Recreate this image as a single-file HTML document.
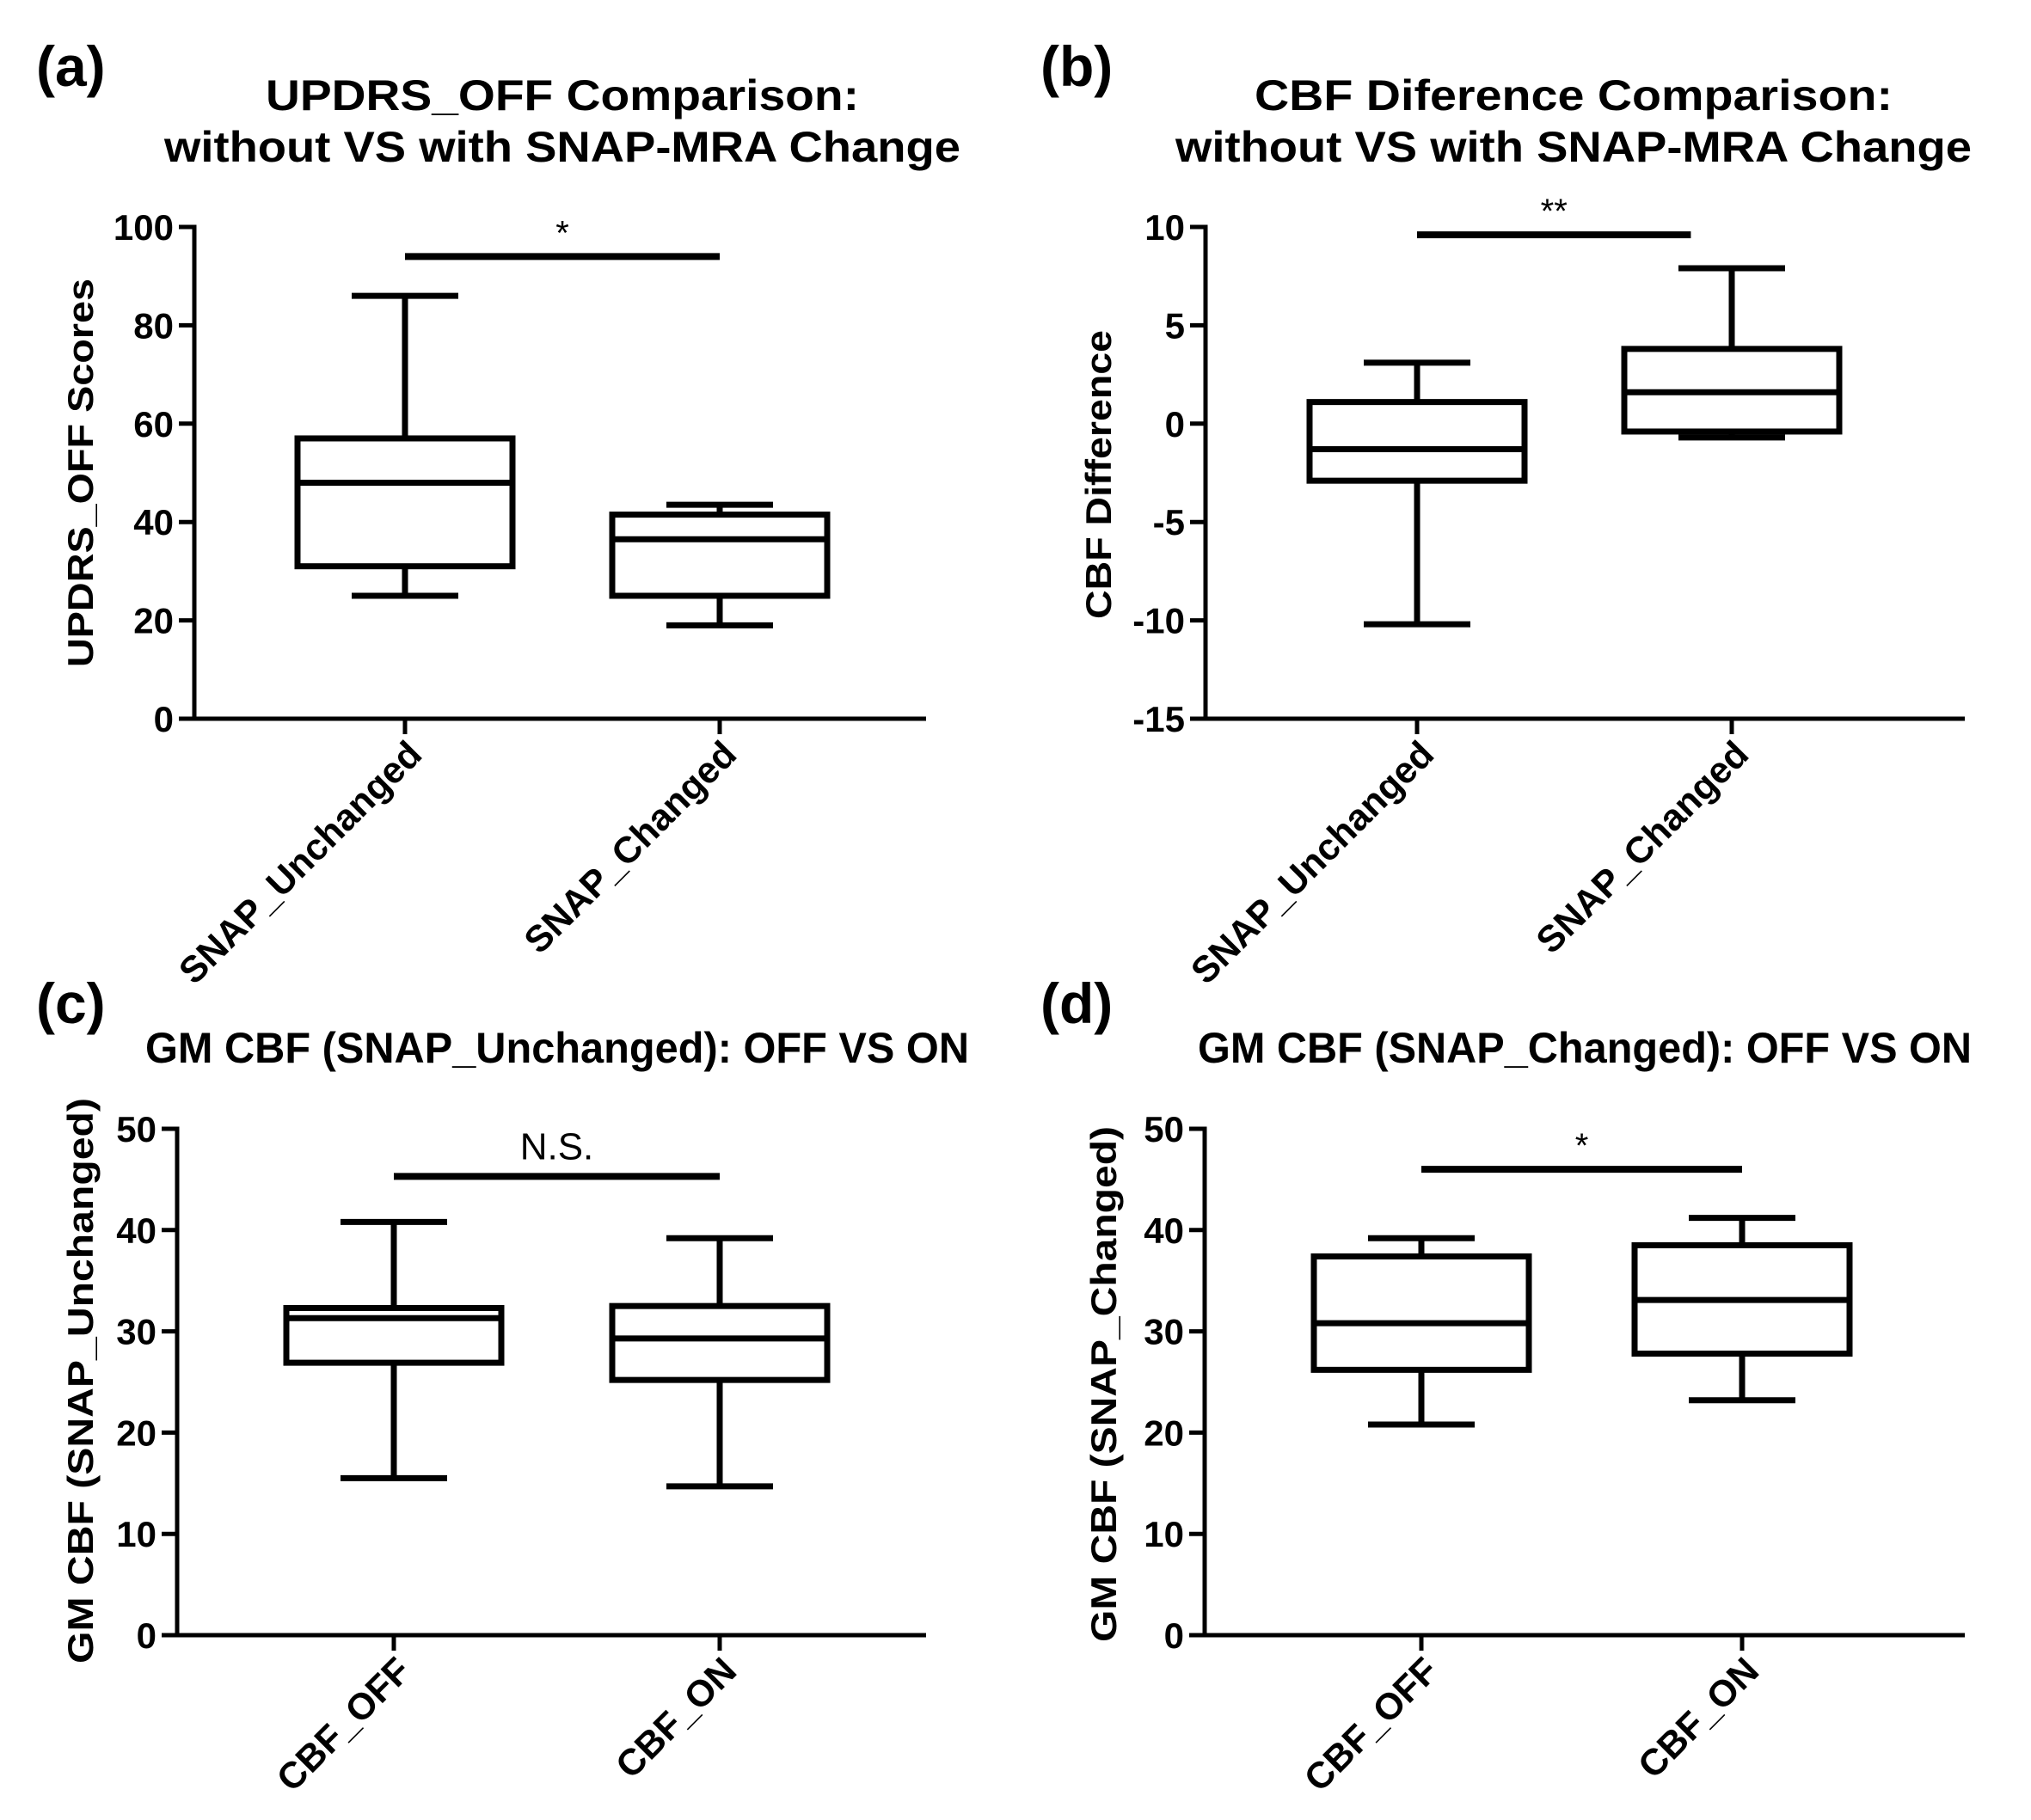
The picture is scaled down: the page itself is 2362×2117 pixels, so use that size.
<!DOCTYPE html>
<html><head><meta charset="utf-8">
<style>
html,body{margin:0;padding:0;background:#fff;}
svg{display:block;}
text{font-family:"Liberation Sans",Arial,sans-serif;fill:#000;}
.b{font-weight:bold;}
</style></head>
<body>
<svg id="fig" width="2362" height="2117" viewBox="0 0 2362 2117" xmlns="http://www.w3.org/2000/svg">
<rect width="2362" height="2117" fill="#fff"/>
</svg>
<script>
// ---- data ----
const catsA = ["SNAP_Unchanged","SNAP_Changed"];
const minA = [25, 19];
const q1A = [31, 25];
const medA = [48, 36.5];
const q3A = [57, 41.5];
const maxA = [86, 43.5];
const ticksA = [0,20,40,60,80,100];

const catsB = ["SNAP_Unchanged","SNAP_Changed"];
const minB = [-10.2, -0.7];
const q1B = [-2.9, -0.4];
const medB = [-1.3, 1.6];
const q3B = [1.1, 3.8];
const maxB = [3.1, 7.9];
const ticksB = [-15,-10,-5,0,5,10];

const catsC = ["CBF_OFF","CBF_ON"];
const minC = [15.5, 14.7];
const q1C = [26.9, 25.2];
const medC = [31.3, 29.3];
const q3C = [32.3, 32.5];
const maxC = [40.8, 39.2];
const ticksC = [0,10,20,30,40,50];

const catsD = ["CBF_OFF","CBF_ON"];
const minD = [20.8, 23.2];
const q1D = [26.2, 27.8];
const medD = [30.8, 33.1];
const q3D = [37.4, 38.5];
const maxD = [39.2, 41.2];
const ticksD = [0,10,20,30,40,50];

const sigValues = [94, 9.6, 45.3, 46];
const sigLabels = ["*", "**", "N.S.", "*"];

const NS = "http://www.w3.org/2000/svg";
const svg = document.getElementById('fig');
function mk(tag, attrs, parent, txt){
  const e = document.createElementNS(NS, tag);
  for (const k in attrs) e.setAttribute(k, attrs[k]);
  if (txt !== undefined) e.textContent = txt;
  (parent||svg).appendChild(e);
  return e;
}

function panel(cfg){
  const g = mk('g', {});
  
  
  const yScale = v => cfg.y0 + (v - cfg.ymin) / (cfg.ymax - cfg.ymin) * (cfg.y1 - cfg.y0);
  const xScale = i => cfg.cx[0] + i * (cfg.cx[1] - cfg.cx[0]);
  const lt = mk('text', {x: cfg.lx, y: cfg.ly, 'font-size': 66, class: 'b'}, g, cfg.letter);
  
  
  cfg.titles.forEach((t, k) => {
    const te = mk('text', {x: cfg.tx, y: cfg.ty[k], 'font-size': 50, class: 'b', 'text-anchor': 'middle', textLength: cfg.tw[k], lengthAdjust: 'spacingAndGlyphs'}, g, t);
    
    
  });
  const ya = mk('line', {x1: cfg.ax, y1: cfg.y1 - 2.5, x2: cfg.ax, y2: cfg.y0 + 2.5, stroke: '#000', 'stroke-width': 5}, g);
  
  
  const xa = mk('line', {x1: cfg.ax - 18, y1: cfg.y0, x2: cfg.xend, y2: cfg.y0, stroke: '#000', 'stroke-width': 5}, g);
  
  
  cfg.ticks.forEach(t => {
    const y = yScale(t);
    const tl = mk('line', {x1: cfg.ax - 18, y1: y, x2: cfg.ax, y2: y, stroke: '#000', 'stroke-width': 5}, g);
    
    
    const tt = mk('text', {x: cfg.ax - 24, y: y + 15, 'font-size': 42, class: 'b', 'text-anchor': 'end'}, g, String(t));
    
    
  });
  const yt = mk('text', {x: 0, y: 0, 'font-size': 42, class: 'b', 'text-anchor': 'middle', transform: `translate(${cfg.ytx},${cfg.yty}) rotate(-90)`, textLength: cfg.ytw, lengthAdjust: 'spacingAndGlyphs'}, g, cfg.ytitle);
  
  
  const hw = 125, cw = 62;
  cfg.cats.forEach((c, i) => {
    const x = xScale(i);
    const bg = mk('g', {}, g);
    
    
    const yMin = yScale(cfg.min[i]), yQ1 = yScale(cfg.q1[i]), yMed = yScale(cfg.med[i]), yQ3 = yScale(cfg.q3[i]), yMax = yScale(cfg.max[i]);
    mk('line', {x1: x, y1: yMax, x2: x, y2: yQ3, stroke: '#000', 'stroke-width': 7}, bg);
    mk('line', {x1: x, y1: yQ1, x2: x, y2: yMin, stroke: '#000', 'stroke-width': 7}, bg);
    mk('line', {x1: x - cw, y1: yMax, x2: x + cw, y2: yMax, stroke: '#000', 'stroke-width': 7}, bg);
    mk('line', {x1: x - cw, y1: yMin, x2: x + cw, y2: yMin, stroke: '#000', 'stroke-width': 7}, bg);
    mk('rect', {x: x - hw, y: yQ3, width: 2 * hw, height: yQ1 - yQ3, fill: '#fff', stroke: '#000', 'stroke-width': 7}, bg);
    mk('line', {x1: x - hw, y1: yMed, x2: x + hw, y2: yMed, stroke: '#000', 'stroke-width': 7}, bg);
    const xt = mk('line', {x1: x, y1: cfg.y0, x2: x, y2: cfg.y0 + 18, stroke: '#000', 'stroke-width': 5}, g);
    
    
    const xl = mk('text', {x: 0, y: 0, 'font-size': 43, class: 'b', 'text-anchor': 'end', transform: `translate(${x + 22},${cfg.y0 + 44}) rotate(-45)`}, g, c);
    
    
  });
  const sy = yScale(cfg.sig);
  const sx1 = xScale(cfg.sigF[0]), sx2 = xScale(cfg.sigF[1]);
  const sb = mk('line', {x1: sx1, y1: sy, x2: sx2, y2: sy, stroke: '#000', 'stroke-width': 8}, g);
  
  
  const st = mk('text', {x: (sx1 + sx2) / 2, y: sy + cfg.sigDy, 'font-size': cfg.sigFs, 'text-anchor': 'middle'}, g, cfg.sigLabel);
  
  
}

panel({name:'panel-a', letter:'(a)', lx:42, ly:100,
  titles:['UPDRS_OFF Comparison:','without VS with SNAP-MRA Change'], tx:654, ty:[128,188], tw:[690,926],
  ax:226, xend:1077, y0:836, y1:264, ymin:0, ymax:100, cx:[471,837], ticks:ticksA,
  ytitle:'UPDRS_OFF Scores', ytx:108, yty:550, ytw:452,
  cats:catsA, min:minA, q1:q1A, med:medA, q3:q3A, max:maxA,
  sig:sigValues[0], sigF:[0,1], sigLabel:sigLabels[0], sigDy:-14, sigFs:40});
panel({name:'panel-b', letter:'(b)', lx:1210, ly:100,
  titles:['CBF Diference Comparison:','without VS with SNAP-MRA Change'], tx:1830, ty:[128,188], tw:[742,926],
  ax:1402, xend:2285, y0:836, y1:264, ymin:-15, ymax:10, cx:[1648,2014], ticks:ticksB,
  ytitle:'CBF Difference', ytx:1292, yty:552, ytw:336,
  cats:catsB, min:minB, q1:q1B, med:medB, q3:q3B, max:maxB,
  sig:sigValues[1], sigF:[0,0.87], sigLabel:sigLabels[1], sigDy:-14, sigFs:40});
panel({name:'panel-c', letter:'(c)', lx:42, ly:1190,
  titles:['GM CBF (SNAP_Unchanged): OFF VS ON'], tx:648, ty:[1236], tw:[958],
  ax:206, xend:1077, y0:1902, y1:1313, ymin:0, ymax:50, cx:[458,837], ticks:ticksC,
  ytitle:'GM CBF (SNAP_Unchanged)', ytx:108, yty:1606, ytw:658,
  cats:catsC, min:minC, q1:q1C, med:medC, q3:q3C, max:maxC,
  sig:sigValues[2], sigF:[0,1], sigLabel:sigLabels[2], sigDy:-20, sigFs:44});
panel({name:'panel-d', letter:'(d)', lx:1210, ly:1190,
  titles:['GM CBF (SNAP_Changed): OFF VS ON'], tx:1843, ty:[1236], tw:[900],
  ax:1401, xend:2285, y0:1902, y1:1313, ymin:0, ymax:50, cx:[1653,2026], ticks:ticksD,
  ytitle:'GM CBF (SNAP_Changed)', ytx:1298, yty:1610, ytw:600,
  cats:catsD, min:minD, q1:q1D, med:medD, q3:q3D, max:maxD,
  sig:sigValues[3], sigF:[0,1], sigLabel:sigLabels[3], sigDy:-14, sigFs:40});
</script>
</body></html>
